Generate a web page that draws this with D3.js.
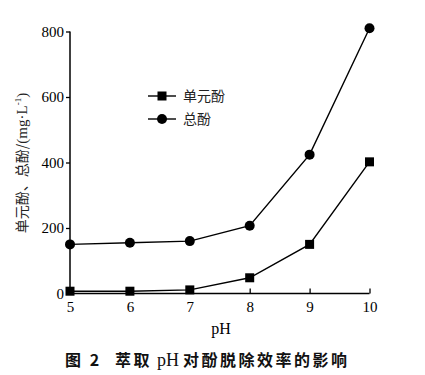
<!DOCTYPE html>
<html><head><meta charset="utf-8">
<script src="https://cdn.jsdelivr.net/npm/d3@7"></script>
<style>body{margin:0;background:#fff}</style>
</head><body>
<svg id="c" width="425" height="375"></svg>
<script>
const phValues = [5, 6, 7, 8, 9, 10];
const monoPhenol = [7, 7, 11, 48, 150, 402];
const totalPhenol = [150, 155, 160, 207, 424, 810];
const yTicks = [0, 200, 400, 600, 800];
const seriesNames = ["单元酚", "总酚"];

const svg = d3.select("#c");
const x = d3.scaleLinear().domain([5, 10]).range([70, 369.5]);
const y = d3.scaleLinear().domain([0, 800]).range([293.5, 31.5]);
const serif = "'Liberation Serif','Times New Roman',serif";
const cjk = "'Noto Sans CJK SC',sans-serif";

// axes
const yAxis = svg.append("g").attr("transform", "translate(70,0)")
  .call(d3.axisLeft(y).tickValues(yTicks).tickSize(4).tickSizeOuter(0).tickPadding(2));
const xAxis = svg.append("g").attr("transform", "translate(0,293.5)")
  .call(d3.axisTop(x).tickValues(phValues).tickSize(5).tickSizeOuter(0).tickFormat(d3.format("d")));
[yAxis, xAxis].forEach(a => {
  a.select(".domain").attr("stroke", "#000").attr("stroke-width", 1.5);
  a.selectAll(".tick line").attr("stroke", "#000").attr("stroke-width", 1.3);
  a.selectAll("text").attr("font-family", serif).attr("font-size", 15).attr("fill", "#000");
});
xAxis.selectAll("text").attr("y", 18).attr("dy", "0");
yAxis.select(".domain").attr("d", "M0,293.5V31.5");
xAxis.select(".domain").attr("d", "M70,0H369.5");

const line = d3.line().x((d, i) => x(phValues[i])).y(d => y(d));
svg.append("path").datum(totalPhenol).attr("d", line).attr("fill", "none").attr("stroke", "#000").attr("stroke-width", 1.4);
svg.append("path").datum(monoPhenol).attr("d", line).attr("fill", "none").attr("stroke", "#000").attr("stroke-width", 1.4);

const sq = 9;
svg.selectAll("rect.mono").data(monoPhenol).enter().append("rect")
  .attr("x", (d, i) => x(phValues[i]) - sq / 2).attr("y", d => y(d) - sq / 2)
  .attr("width", sq).attr("height", sq).attr("fill", "#000");
svg.selectAll("circle.total").data(totalPhenol).enter().append("circle")
  .attr("cx", (d, i) => x(phValues[i])).attr("cy", d => y(d)).attr("r", 5).attr("fill", "#000");

// legend
const leg = svg.append("g");
seriesNames.forEach((name, i) => {
  const yy = 96 + i * 23;
  leg.append("line").attr("x1", 148).attr("x2", 176).attr("y1", yy).attr("y2", yy).attr("stroke", "#000").attr("stroke-width", 1.4);
  if (i === 0) leg.append("rect").attr("x", 162 - 4.5).attr("y", yy - 4.5).attr("width", 9).attr("height", 9).attr("fill", "#000");
  else leg.append("circle").attr("cx", 162).attr("cy", yy).attr("r", 5).attr("fill", "#000");
  leg.append("text").attr("x", 183).attr("y", yy + 5).attr("font-family", cjk).attr("font-size", 14).attr("fill", "#222").text(name);
});

// y label
const yl = svg.append("text").attr("transform", "translate(27,163) rotate(-90)").attr("text-anchor", "middle")
  .attr("font-size", 14).attr("fill", "#222");
yl.append("tspan").attr("font-family", cjk).text("单元酚、总酚/");
yl.append("tspan").attr("font-family", serif).attr("font-size", 15).text("(mg·L");
yl.append("tspan").attr("font-family", serif).attr("font-size", 9).attr("dy", -6).text("-1");
yl.append("tspan").attr("font-family", serif).attr("font-size", 15).attr("dy", 6).text(")");

// x label
svg.append("text").attr("x", 221).attr("y", 334).attr("text-anchor", "middle").attr("font-family", serif)
  .attr("font-size", 16).attr("fill", "#000").text("pH");

// caption
const cap = svg.append("text").attr("y", 366).attr("font-size", 16).attr("fill", "#111").attr("font-weight", "bold")
  .attr("letter-spacing", 2.5);
cap.append("tspan").attr("x", 65).attr("font-family", cjk).text("图 2");
cap.append("tspan").attr("x", 115).attr("font-family", cjk).text("萃取");
cap.append("tspan").attr("x", 157).attr("font-family", serif).attr("font-weight", "normal").attr("font-size", 18).attr("letter-spacing", 0).text("pH");
cap.append("tspan").attr("x", 183).attr("font-family", cjk).text("对酚脱除效率的影响");
</script>
</body></html>
